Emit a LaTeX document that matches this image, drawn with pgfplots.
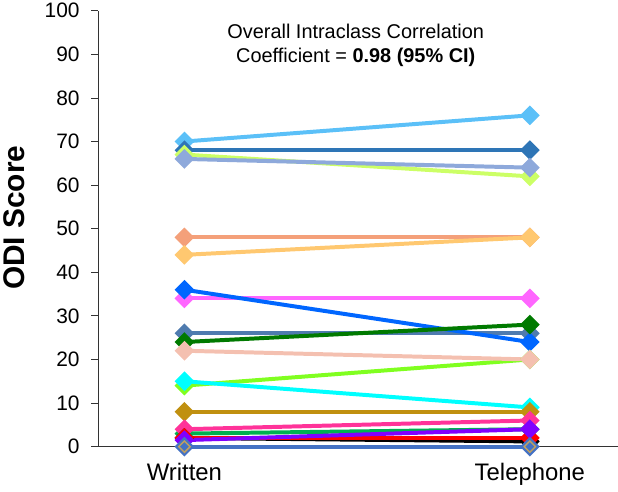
\documentclass[border=0pt]{standalone}
\usepackage{fontspec}
\setmainfont{Liberation Sans}
\usepackage{pgfplots}
\pgfplotsset{compat=1.18}
\definecolor{c1}{HTML}{5BC0F8}
\definecolor{c2}{HTML}{2E75B6}
\definecolor{c3}{HTML}{CCFF66}
\definecolor{c4}{HTML}{8EA9DB}
\definecolor{c5}{HTML}{F4A07A}
\definecolor{c6}{HTML}{FFC870}
\definecolor{c7}{HTML}{0066FF}
\definecolor{c8}{HTML}{FF66FF}
\definecolor{c9}{HTML}{4F7BAF}
\definecolor{c10}{HTML}{007A00}
\definecolor{c11}{HTML}{F4C0B0}
\definecolor{c12}{HTML}{00FFFF}
\definecolor{c13}{HTML}{80FF20}
\definecolor{c14}{HTML}{C09010}
\definecolor{c15}{HTML}{00B050}
\definecolor{c16}{HTML}{FF3399}
\definecolor{c17}{HTML}{000000}
\definecolor{c18}{HTML}{FF0000}
\definecolor{c19}{HTML}{8000FF}
\definecolor{c20}{HTML}{4472C4}
\definecolor{c21}{HTML}{C0A060}
\begin{document}
\begin{tikzpicture}
\begin{axis}[
  scale only axis,
  width=522pt, height=438pt,
  xmin=-0.25, xmax=1.254,
  ymin=0, ymax=100,
  axis x line=bottom, axis y line=left,
  axis line style={-, black!80, line width=0.8pt},
  xtick={0,1}, xticklabels={Written,Telephone},
  x tick style={draw=none},
  ytick distance=10,
  tick align=outside,
  major tick length=7pt,
  y tick style={black!80, line width=0.8pt},
  /pgf/number format/assume math mode=true,
  yticklabel style={font=\fontsize{21}{24}\selectfont, xshift=-8pt},
  xticklabel style={font=\fontsize{24}{28}\selectfont, yshift=-6pt},
  ylabel={\textbf{ODI Score}},
  ylabel style={font=\fontsize{30}{34}\selectfont, at={(axis description cs:-0.162,0.525)}, anchor=center},
  every axis plot/.append style={line width=4pt, mark=square*, mark size=5pt, mark options={rotate=45, solid}},
  clip=false,
]
\addplot[c1] coordinates {(0,70) (1,76)};
\addplot[c2] coordinates {(0,68) (1,68)};
\addplot[c3] coordinates {(0,67) (1,62)};
\addplot[c4] coordinates {(0,66) (1,64)};
\addplot[c5] coordinates {(0,48) (1,48)};
\addplot[c6] coordinates {(0,44) (1,48)};
\addplot[c8] coordinates {(0,34) (1,34)};
\addplot[c9] coordinates {(0,26) (1,26)};
\addplot[c7] coordinates {(0,36) (1,24)};
\addplot[c10] coordinates {(0,24) (1,28)};
\addplot[c13] coordinates {(0,14) (1,20)};
\addplot[c11] coordinates {(0,22) (1,20)};
\addplot[c12] coordinates {(0,15) (1,9)};
\addplot[c14] coordinates {(0,8) (1,8)};
\addplot[c15] coordinates {(0,3) (1,4)};
\addplot[c16] coordinates {(0,4) (1,6)};
\addplot[c17] coordinates {(0,2) (1,1.2)};
\addplot[c18] coordinates {(0,2) (1,2)};
\addplot[c19] coordinates {(0,1.5) (1,4)};
\addplot[c20] coordinates {(0,0) (1,0)};
\addplot[c21, line width=1.5pt, mark=square, mark size=4pt, mark options={rotate=45, fill=none}, only marks] coordinates {(0,0) (1,0)};
\node[align=center, font=\fontsize{20}{24}\selectfont, anchor=north] at (axis cs:0.496,97.8) {Overall Intraclass Correlation\\Coefficient = \textbf{0.98 (95\% CI)}};
\end{axis}
\path ([shift={(-96pt,-45pt)}]current axis.south west) rectangle ([shift={(0pt,10pt)}]current axis.north east);
\end{tikzpicture}
\end{document}
